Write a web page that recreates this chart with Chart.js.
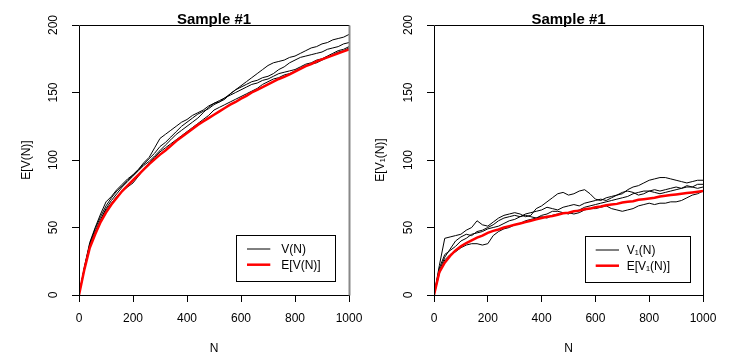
<!DOCTYPE html>
<html><head><meta charset="utf-8">
<script src="https://cdn.jsdelivr.net/npm/chart.js@4"></script>
<style>
html,body{margin:0;padding:0;background:#fff;}
#wrap{position:relative;width:731px;height:356px;background:#fff;}
#c1{position:absolute;left:0;top:0;}
#c2{position:absolute;left:366px;top:0;}
</style></head><body>
<div id="wrap"><canvas id="c1" width="366" height="356"></canvas><canvas id="c2" width="365" height="356"></canvas></div>
<script>
// ---- data ----
const N = [0,20,40,60,80,100,120,140,160,180,200,220,240,260,280,300,320,340,360,380,400,420,440,460,480,500,520,540,560,580,600,620,640,660,680,700,720,740,760,780,800,820,840,860,880,900,920,940,960,980,1000];
const xTicks = [0,200,400,600,800,1000];
const yTicks = [0,50,100,150,200];

// left panel: V(N) sample paths and E[V(N)]
const EV  = [0,19,35,45,54,61,67,72,77,81,85,89,93,97,100.5,104,107,110.5,114,117,120,123,126,128.5,131,133.5,136,138.5,141,143,145.5,147.5,150,152,154,156,158,160,161.5,163.5,165.5,167.5,169.5,171,173,174.5,176,177.5,179,180.5,182];
const VA  = [0,20,38,49,58,66,72,77,81,85,89,93,97,101,105,110,113,117,121,125,128,131,134,136,138,141,143,146,149,152,155,158,161,164,167,170,172,173,174,176,177,179,181,183,184,186,187,189,190,191,193];
const VB  = [0,21,39,50,60,69,73,78,82,86,89,93,98,102,109,116,119,122,125,128,130,133,135,137,140,142,143,145,149,152,154,156,158,159,161,162,164,167,169,172,174,176,177,178,179,180,182,183,184,186,187];
const VC  = [0,20,37,47,56,64,70,75,80,84,88,92,96,99,103,107,111,115,119,122,125,128,131,135,139,142,144,146,148,150,152,154,156,157,159,160,162,164,165,166,167,169,171,172,174,175,177,179,181,182,184];
const VD  = [0,19,36,46,55,63,68,73,77,80,83,88,93,98,102,106,109,112,115,118,121,124,127,130,133,137,139,141,143,145,147,149,151,153,156,158,160,161,163,164,166,168,170,171,172,174,176,178,180,181,183];

// right panel: V1(N) sample paths and E[V1(N)]
const EV1 = [0,17,24,29,33,36,38.5,40.5,42.5,44,46,47.5,48.5,50,51,52,53,54,55,56,57,58,58.5,59.5,60.5,61,62,62.5,63.5,64,65,65.5,66.5,67,67.5,68.5,69,69.5,70.5,71,71.5,72,73,73.5,74,74.5,75,75.5,76,76.5,77];
const W1  = [0,22,42,43,44,45,48,50,55,52,51,54,57,59,60,61,60,58,59,64,66,69,72,75,76,74,75,77,78,75,71,70,72,73,74,76,77,76,74,75,77,78,77,78,79,80,79,81,80,82,82];
const W2  = [0,18,28,34,40,43,45,44,47,48,50,52,55,57,58,59,58,60,61,62,63,65,64,63,65,66,67,66,68,69,70,71,70,72,74,75,78,80,81,83,85,86,87,87,86,85,84,83,84,85,85];
const W3  = [0,16,26,30,32,35,37,38,38,37,38,44,47,49,50,52,53,55,56,57,58,57,59,60,61,61,60,61,63,64,64,65,66,64,63,62,63,64,66,67,68,67,68,68,69,69,70,72,74,75,77];
const W4  = [0,20,30,33,36,40,42,45,46,47,49,50,51,53,55,56,58,59,58,57,59,60,62,62,61,60,62,63,65,66,67,68,69,70,71,72,73,75,76,77,77,76,75,76,77,78,79,80,80,79,80];

const FONT = '"Liberation Sans", Arial, Helvetica, sans-serif';
const pts = arr => arr.map((v,i)=>({x:N[i], y:v}));

const framePlugin = {
  id: 'rframe',
  afterDatasetsDraw(chart, args, o) {
    const {ctx, chartArea:a} = chart;
    const l = Math.round(a.left)+0.5, t = Math.round(a.top)+0.5, r = Math.round(a.right)+0.5, b = Math.round(a.bottom)+0.5;
    ctx.save();
    ctx.lineWidth = 1; ctx.strokeStyle = '#000';
    ctx.beginPath();
    ctx.moveTo(r,t); ctx.lineTo(l,t); ctx.lineTo(l,b); ctx.lineTo(r,b);
    ctx.stroke();
    ctx.strokeStyle = o.rightColor; ctx.lineWidth = o.rightWidth;
    ctx.beginPath(); ctx.moveTo(r,t); ctx.lineTo(r,b); ctx.stroke();
    // legend
    const L = o.legend;
    const bx = Math.round(a.right - L.inset - L.w), by = Math.round(a.bottom - L.inset - L.h);
    ctx.fillStyle = '#fff'; ctx.fillRect(bx, by, L.w, L.h);
    ctx.strokeStyle = '#000'; ctx.lineWidth = 1;
    ctx.strokeRect(bx+0.5, by+0.5, L.w, L.h);
    ctx.font = '12px ' + FONT; ctx.textBaseline = 'middle'; ctx.textAlign = 'left';
    L.items.forEach((idx, i) => {
      const ds = chart.data.datasets[idx];
      const y = by + L.y0 + i*L.dy;
      ctx.strokeStyle = ds.borderColor; ctx.lineWidth = ds.borderWidth;
      ctx.beginPath(); ctx.moveTo(bx+L.x0, y); ctx.lineTo(bx+L.x1, y); ctx.stroke();
      ctx.fillStyle = '#000';
      ctx.fillText(ds.label, bx+L.tx, y+1);
    });
    ctx.restore();
  }
};

function makeChart(id, opt) {
  const black = (arr) => ({label: opt.vLabel, data: pts(arr), borderColor:'#000', borderWidth:1, pointRadius:0, tension:0, fill:false});
  return new Chart(document.getElementById(id), {
    type: 'line',
    data: {
      datasets: [
        {label: opt.eLabel, data: pts(opt.e), borderColor:'#ff0000', borderWidth:2.5, pointRadius:0, tension:0, fill:false},
        ...opt.paths.map(black)
      ]
    },
    options: {
      responsive: false, animation: false, devicePixelRatio: 1,
      layout: {padding: {top:0, right: opt.padRight, bottom:0, left:0}},
      plugins: {
        legend: {display:false}, tooltip: {enabled:false},
        title: {display:true, text: opt.title, fullSize:false, color:'#000',
                font:{family:FONT, size:15, weight:'bold', lineHeight:1.2}, padding:{top:11, bottom:-4}},
        rframe: {rightColor: opt.rightColor, rightWidth: opt.rightWidth,
                 legend: {w: opt.legW, h: 46, inset: opt.legInset, x0: opt.legX0, x1: opt.legX1, tx: opt.legTx, y0: 14, dy: 15.7, items:[1,0]}}
      },
      scales: {
        x: {
          type:'linear', min:0, max:1000,
          afterBuildTicks: s => { s.ticks = xTicks.map(v=>({value:v})); },
          afterFit: s => { s.height = 61; s.paddingLeft = 0; s.paddingRight = 0; },
          grid: {display:true, drawOnChartArea:false, drawTicks:true, tickLength:7, color:'#000', lineWidth:1},
          border: {display:false},
          ticks: {autoSkip:false, maxRotation:0, minRotation:0, padding:9, color:'#000', font:{family:FONT, size:12},
                  callback: v => String(v)},
          title: {display:true, text:'N', color:'#000', font:{family:FONT, size:12, lineHeight:1.2}, padding:{top:0, bottom:0}}
        },
        y: {
          type:'linear', min:0, max:200,
          afterBuildTicks: s => { s.ticks = yTicks.map(v=>({value:v})); },
          afterFit: s => { s.width = opt.yWidth; s.paddingTop = 0; s.paddingBottom = 0; },
          grid: {display:true, drawOnChartArea:false, drawTicks:true, tickLength:7, color:'#000', lineWidth:1},
          border: {display:false},
          ticks: {autoSkip:false, minRotation:90, maxRotation:90, crossAlign:'center', padding:8, color:'#000', font:{family:FONT, size:12},
                  callback: v => String(v)},
          title: {display:true, text: opt.yTitle, color:'#000', font:{family:FONT, size:12, lineHeight:1.2}, padding:{top: opt.yTitlePad, bottom:0}}
        }
      }
    },
    plugins: [framePlugin]
  });
}

makeChart('c1', {
  title:'Sample #1', yTitle:'E[V(N)]', vLabel:'V(N)', eLabel:'E[V(N)]',
  e: EV, paths:[VA,VB,VC,VD],
  padRight:17, yWidth:79, yTitlePad:19.8,
  rightColor:'#888', rightWidth:2,
  legW:99, legInset:14, legX0:11, legX1:34.3, legTx:45.3
});
makeChart('c2', {
  title:'Sample #1', yTitle:'E[V\u2081(N)]', vLabel:'V\u2081(N)', eLabel:'E[V\u2081(N)]',
  e: EV1, paths:[W1,W2,W3,W4],
  padRight:28, yWidth:68, yTitlePad:7.8,
  rightColor:'#000', rightWidth:1,
  legW:105, legInset:13, legX0:10.7, legX1:34, legTx:41.7
});
</script>
</body></html>
